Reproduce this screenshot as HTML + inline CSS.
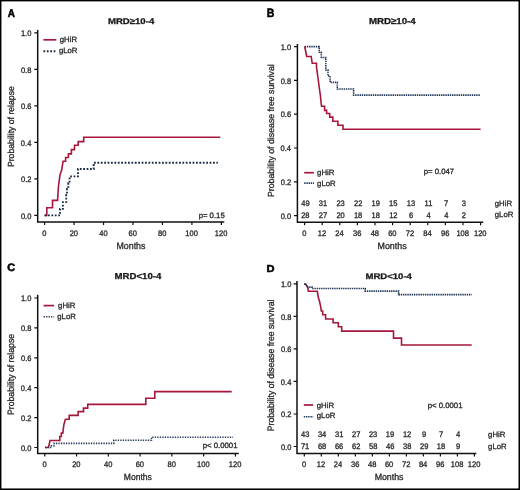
<!DOCTYPE html>
<html><head><meta charset="utf-8"><title>Figure</title>
<style>html,body{margin:0;padding:0;background:#fff;width:520px;height:490px;overflow:hidden}svg{display:block;will-change:transform}text{font-family:"Liberation Sans",sans-serif;text-rendering:geometricPrecision;stroke:#2a2a2a;stroke-width:0.3px}</style>
</head><body>
<svg width="520" height="490" viewBox="0 0 520 490">
<rect x="0" y="0" width="520" height="490" fill="#fff"/>
<path d="M37.7,30 V222.1 H224.3" fill="none" stroke="#111" stroke-width="1.5"/>
<text x="20.95" y="218.55" font-size="8" textLength="10.45" lengthAdjust="spacingAndGlyphs" fill="#1a1a1a">0.0</text>
<text x="21.02" y="182.05" font-size="8" textLength="10.45" lengthAdjust="spacingAndGlyphs" fill="#1a1a1a">0.2</text>
<text x="20.87" y="145.55" font-size="8" textLength="10.45" lengthAdjust="spacingAndGlyphs" fill="#1a1a1a">0.4</text>
<text x="20.99" y="109.05" font-size="8" textLength="10.45" lengthAdjust="spacingAndGlyphs" fill="#1a1a1a">0.6</text>
<text x="20.95" y="72.55" font-size="8" textLength="10.45" lengthAdjust="spacingAndGlyphs" fill="#1a1a1a">0.8</text>
<text x="20.95" y="36.05" font-size="8" textLength="10.45" lengthAdjust="spacingAndGlyphs" fill="#1a1a1a">1.0</text>
<path d="M34.3,215.35 H37.7 M34.3,178.85 H37.7 M34.3,142.35 H37.7 M34.3,105.85 H37.7 M34.3,69.35 H37.7 M34.3,32.85 H37.7" stroke="#111" stroke-width="1.2"/>
<text x="42.31" y="236.1" font-size="8" textLength="4.18" lengthAdjust="spacingAndGlyphs" fill="#1a1a1a">0</text>
<text x="69.66" y="236.1" font-size="8" textLength="8.36" lengthAdjust="spacingAndGlyphs" fill="#1a1a1a">20</text>
<text x="99.22" y="236.1" font-size="8" textLength="8.36" lengthAdjust="spacingAndGlyphs" fill="#1a1a1a">40</text>
<text x="128.59" y="236.1" font-size="8" textLength="8.36" lengthAdjust="spacingAndGlyphs" fill="#1a1a1a">60</text>
<text x="158.07" y="236.1" font-size="8" textLength="8.36" lengthAdjust="spacingAndGlyphs" fill="#1a1a1a">80</text>
<text x="185.34" y="236.1" font-size="8" textLength="12.55" lengthAdjust="spacingAndGlyphs" fill="#1a1a1a">100</text>
<text x="214.81" y="236.1" font-size="8" textLength="12.55" lengthAdjust="spacingAndGlyphs" fill="#1a1a1a">120</text>
<path d="M44.6,222.1 V225.1 M74.07,222.1 V225.1 M103.53,222.1 V225.1 M133,222.1 V225.1 M162.47,222.1 V225.1 M191.93,222.1 V225.1 M221.4,222.1 V225.1" stroke="#111" stroke-width="1.2"/>
<text x="107.93" y="23.65" font-size="8.29" textLength="46.3" lengthAdjust="spacingAndGlyphs" font-weight="bold" fill="#111">MRD&#8805;10-4</text>
<text x="7.75" y="16.55" font-size="11.16" textLength="7.17" lengthAdjust="spacingAndGlyphs" font-weight="bold" fill="#000" style="stroke:#000;stroke-width:0.55px">A</text>
<text x="-0.69" y="0" font-size="8.83" textLength="80.87" lengthAdjust="spacingAndGlyphs" fill="#1a1a1a" transform="translate(14.45,166.35) rotate(-90)">Probability of relapse</text>
<text x="116.54" y="249.25" font-size="9.52" textLength="28.91" lengthAdjust="spacingAndGlyphs" fill="#1a1a1a">Months</text>
<path d="M43.4,39.8 H56.3" stroke="#a5173b" stroke-width="1.7"/>
<path d="M43.4,51.3 H56.3" stroke="#1d2f45" stroke-width="1.9" stroke-dasharray="1.8 1.6"/>
<text x="59.79" y="42.2" font-size="7.75" textLength="17.23" lengthAdjust="spacingAndGlyphs" fill="#1a1a1a">gHiR</text>
<text x="58.89" y="52.8" font-size="7.75" textLength="18.53" lengthAdjust="spacingAndGlyphs" fill="#1a1a1a">gLoR</text>
<text x="198.63" y="217.6" font-size="7.75" textLength="26.07" lengthAdjust="spacingAndGlyphs" fill="#1a1a1a">p= 0.15</text>
<path d="M44.6,215.4 H46.8 V207.8 H52.5 V200.4 H57.6 L58.4,187 L60,174.6 L61.7,170 L63.1,161.2 H65.6 V157.5 H68.4 V153.9 H71.4 V149.6 H74.5 V145.3 H78.2 V141.6 H83.7 V137.3 H220.3" fill="none" stroke="#a5173b" stroke-width="1.6" stroke-linejoin="miter"/>
<path d="M44.6,215.4 H60 V208.9 H62.9 V202.1 H66.2 V195 H67 V189 H68.3 V183 H69.6 V176.4 H78 V169 H93.7 V162.8 H217.8" fill="none" stroke="#1d2f45" stroke-width="1.9" stroke-dasharray="1.8 1.6"/>
<path d="M297.4,44 V222.3 H483.2" fill="none" stroke="#111" stroke-width="1.5"/>
<text x="280.65" y="218.8" font-size="8" textLength="10.45" lengthAdjust="spacingAndGlyphs" fill="#1a1a1a">0.0</text>
<text x="280.72" y="185" font-size="8" textLength="10.45" lengthAdjust="spacingAndGlyphs" fill="#1a1a1a">0.2</text>
<text x="280.57" y="151.2" font-size="8" textLength="10.45" lengthAdjust="spacingAndGlyphs" fill="#1a1a1a">0.4</text>
<text x="280.69" y="117.4" font-size="8" textLength="10.45" lengthAdjust="spacingAndGlyphs" fill="#1a1a1a">0.6</text>
<text x="280.65" y="83.6" font-size="8" textLength="10.45" lengthAdjust="spacingAndGlyphs" fill="#1a1a1a">0.8</text>
<text x="280.65" y="49.8" font-size="8" textLength="10.45" lengthAdjust="spacingAndGlyphs" fill="#1a1a1a">1.0</text>
<path d="M294,215.6 H297.4 M294,181.8 H297.4 M294,148 H297.4 M294,114.2 H297.4 M294,80.4 H297.4 M294,46.6 H297.4" stroke="#111" stroke-width="1.2"/>
<text x="302.31" y="236" font-size="8" textLength="4.18" lengthAdjust="spacingAndGlyphs" fill="#1a1a1a">0</text>
<text x="317.73" y="236" font-size="8" textLength="8.36" lengthAdjust="spacingAndGlyphs" fill="#1a1a1a">12</text>
<text x="335.35" y="236" font-size="8" textLength="8.36" lengthAdjust="spacingAndGlyphs" fill="#1a1a1a">24</text>
<text x="353.05" y="236" font-size="8" textLength="8.36" lengthAdjust="spacingAndGlyphs" fill="#1a1a1a">36</text>
<text x="370.68" y="236" font-size="8" textLength="8.36" lengthAdjust="spacingAndGlyphs" fill="#1a1a1a">48</text>
<text x="388.19" y="236" font-size="8" textLength="8.36" lengthAdjust="spacingAndGlyphs" fill="#1a1a1a">60</text>
<text x="405.83" y="236" font-size="8" textLength="8.36" lengthAdjust="spacingAndGlyphs" fill="#1a1a1a">72</text>
<text x="423.37" y="236" font-size="8" textLength="8.36" lengthAdjust="spacingAndGlyphs" fill="#1a1a1a">84</text>
<text x="441.03" y="236" font-size="8" textLength="8.36" lengthAdjust="spacingAndGlyphs" fill="#1a1a1a">96</text>
<text x="456.41" y="236" font-size="8" textLength="12.55" lengthAdjust="spacingAndGlyphs" fill="#1a1a1a">108</text>
<text x="474.01" y="236" font-size="8" textLength="12.55" lengthAdjust="spacingAndGlyphs" fill="#1a1a1a">120</text>
<path d="M304.6,222.3 V225.3 M322.2,222.3 V225.3 M339.8,222.3 V225.3 M357.4,222.3 V225.3 M375,222.3 V225.3 M392.6,222.3 V225.3 M410.2,222.3 V225.3 M427.8,222.3 V225.3 M445.4,222.3 V225.3 M463,222.3 V225.3 M480.6,222.3 V225.3" stroke="#111" stroke-width="1.2"/>
<text x="368.92" y="23.85" font-size="8.57" textLength="46.81" lengthAdjust="spacingAndGlyphs" font-weight="bold" fill="#111">MRD&#8805;10-4</text>
<text x="266.67" y="16.95" font-size="12.17" textLength="7.58" lengthAdjust="spacingAndGlyphs" font-weight="bold" fill="#000" style="stroke:#000;stroke-width:0.55px">B</text>
<text x="-0.7" y="0" font-size="8.83" textLength="132.81" lengthAdjust="spacingAndGlyphs" fill="#1a1a1a" transform="translate(274.05,196.35) rotate(-90)">Probability of disease free survival</text>
<text x="377.54" y="249.05" font-size="9.24" textLength="29.12" lengthAdjust="spacingAndGlyphs" fill="#1a1a1a">Months</text>
<path d="M304.2,172.7 H313.9" stroke="#a5173b" stroke-width="1.7"/>
<path d="M304.2,183.1 H313.9" stroke="#213657" stroke-width="1.6" stroke-dasharray="1.4 0.8"/>
<text x="317.09" y="174.5" font-size="7.75" textLength="17.23" lengthAdjust="spacingAndGlyphs" fill="#1a1a1a">gHiR</text>
<text x="317.09" y="185.5" font-size="7.75" textLength="18.53" lengthAdjust="spacingAndGlyphs" fill="#1a1a1a">gLoR</text>
<text x="423.7" y="174.45" font-size="7.75" textLength="30.38" lengthAdjust="spacingAndGlyphs" fill="#1a1a1a">p= 0.047</text>
<path d="M304.7,46.5 L306.7,56.5 H311.2 L312.2,63.3 H316.5 V67 L318,78 L319.3,88 L320.2,94 L321.5,106.3 H324.6 V110.4 H326.6 V113.5 H329.7 V117.1 H332.8 V121.2 H337.9 V125.3 H343 V129.2 H480.6" fill="none" stroke="#a5173b" stroke-width="1.6" stroke-linejoin="miter"/>
<path d="M304.7,46.6 H319.2 V52.2 H321.3 V57.5 H325.8 V70 H328 V76 H330.1 V82.4 H337.3 V89 H353.6 V95.1 H480.6" fill="none" stroke="#213657" stroke-width="1.6" stroke-dasharray="1.4 0.8"/>
<text x="301.3" y="205.8" font-size="8" textLength="8.36" lengthAdjust="spacingAndGlyphs" fill="#1a1a1a">49</text>
<text x="318.86" y="205.8" font-size="8" textLength="8.36" lengthAdjust="spacingAndGlyphs" fill="#1a1a1a">31</text>
<text x="336.41" y="205.8" font-size="8" textLength="8.36" lengthAdjust="spacingAndGlyphs" fill="#1a1a1a">23</text>
<text x="354.03" y="205.8" font-size="8" textLength="8.36" lengthAdjust="spacingAndGlyphs" fill="#1a1a1a">22</text>
<text x="371.51" y="205.8" font-size="8" textLength="8.36" lengthAdjust="spacingAndGlyphs" fill="#1a1a1a">19</text>
<text x="389.09" y="205.8" font-size="8" textLength="8.36" lengthAdjust="spacingAndGlyphs" fill="#1a1a1a">15</text>
<text x="406.71" y="205.8" font-size="8" textLength="8.36" lengthAdjust="spacingAndGlyphs" fill="#1a1a1a">13</text>
<text x="424.61" y="205.8" font-size="8" textLength="7.81" lengthAdjust="spacingAndGlyphs" fill="#1a1a1a">11</text>
<text x="444.11" y="205.8" font-size="8" textLength="4.18" lengthAdjust="spacingAndGlyphs" fill="#1a1a1a">7</text>
<text x="461.73" y="205.8" font-size="8" textLength="4.18" lengthAdjust="spacingAndGlyphs" fill="#1a1a1a">3</text>
<text x="301.19" y="217.9" font-size="8" textLength="8.36" lengthAdjust="spacingAndGlyphs" fill="#1a1a1a">28</text>
<text x="318.83" y="217.9" font-size="8" textLength="8.36" lengthAdjust="spacingAndGlyphs" fill="#1a1a1a">27</text>
<text x="336.39" y="217.9" font-size="8" textLength="8.36" lengthAdjust="spacingAndGlyphs" fill="#1a1a1a">20</text>
<text x="353.89" y="217.9" font-size="8" textLength="8.36" lengthAdjust="spacingAndGlyphs" fill="#1a1a1a">18</text>
<text x="371.49" y="217.9" font-size="8" textLength="8.36" lengthAdjust="spacingAndGlyphs" fill="#1a1a1a">18</text>
<text x="389.13" y="217.9" font-size="8" textLength="8.36" lengthAdjust="spacingAndGlyphs" fill="#1a1a1a">12</text>
<text x="408.89" y="217.9" font-size="8" textLength="4.18" lengthAdjust="spacingAndGlyphs" fill="#1a1a1a">6</text>
<text x="426.53" y="217.9" font-size="8" textLength="4.18" lengthAdjust="spacingAndGlyphs" fill="#1a1a1a">4</text>
<text x="444.13" y="217.9" font-size="8" textLength="4.18" lengthAdjust="spacingAndGlyphs" fill="#1a1a1a">4</text>
<text x="461.71" y="217.9" font-size="8" textLength="4.18" lengthAdjust="spacingAndGlyphs" fill="#1a1a1a">2</text>
<text x="494.79" y="205.55" font-size="7.75" textLength="17.23" lengthAdjust="spacingAndGlyphs" fill="#1a1a1a">gHiR</text>
<text x="494.79" y="217.25" font-size="7.75" textLength="18.53" lengthAdjust="spacingAndGlyphs" fill="#1a1a1a">gLoR</text>
<path d="M37.7,294.8 V453.6 H238.7" fill="none" stroke="#111" stroke-width="1.5"/>
<text x="20.95" y="450.7" font-size="8" textLength="10.45" lengthAdjust="spacingAndGlyphs" fill="#1a1a1a">0.0</text>
<text x="21.02" y="420.8" font-size="8" textLength="10.45" lengthAdjust="spacingAndGlyphs" fill="#1a1a1a">0.2</text>
<text x="20.87" y="390.9" font-size="8" textLength="10.45" lengthAdjust="spacingAndGlyphs" fill="#1a1a1a">0.4</text>
<text x="20.99" y="361" font-size="8" textLength="10.45" lengthAdjust="spacingAndGlyphs" fill="#1a1a1a">0.6</text>
<text x="20.95" y="331.1" font-size="8" textLength="10.45" lengthAdjust="spacingAndGlyphs" fill="#1a1a1a">0.8</text>
<text x="20.95" y="301.2" font-size="8" textLength="10.45" lengthAdjust="spacingAndGlyphs" fill="#1a1a1a">1.0</text>
<path d="M34.3,447.5 H37.7 M34.3,417.6 H37.7 M34.3,387.7 H37.7 M34.3,357.8 H37.7 M34.3,327.9 H37.7 M34.3,298 H37.7" stroke="#111" stroke-width="1.2"/>
<text x="42.51" y="467.3" font-size="8" textLength="4.18" lengthAdjust="spacingAndGlyphs" fill="#1a1a1a">0</text>
<text x="72.16" y="467.3" font-size="8" textLength="8.36" lengthAdjust="spacingAndGlyphs" fill="#1a1a1a">20</text>
<text x="104.02" y="467.3" font-size="8" textLength="8.36" lengthAdjust="spacingAndGlyphs" fill="#1a1a1a">40</text>
<text x="135.69" y="467.3" font-size="8" textLength="8.36" lengthAdjust="spacingAndGlyphs" fill="#1a1a1a">60</text>
<text x="167.47" y="467.3" font-size="8" textLength="8.36" lengthAdjust="spacingAndGlyphs" fill="#1a1a1a">80</text>
<text x="197.04" y="467.3" font-size="8" textLength="12.55" lengthAdjust="spacingAndGlyphs" fill="#1a1a1a">100</text>
<text x="228.81" y="467.3" font-size="8" textLength="12.55" lengthAdjust="spacingAndGlyphs" fill="#1a1a1a">120</text>
<path d="M44.8,453.6 V456.6 M76.57,453.6 V456.6 M108.33,453.6 V456.6 M140.1,453.6 V456.6 M171.87,453.6 V456.6 M203.63,453.6 V456.6 M235.4,453.6 V456.6" stroke="#111" stroke-width="1.2"/>
<text x="114.52" y="278.75" font-size="8.57" textLength="46.8" lengthAdjust="spacingAndGlyphs" font-weight="bold" fill="#111">MRD&lt;10-4</text>
<text x="7.32" y="271.35" font-size="10.71" textLength="7.83" lengthAdjust="spacingAndGlyphs" font-weight="bold" fill="#000" style="stroke:#000;stroke-width:0.55px">C</text>
<text x="-0.7" y="0" font-size="9.24" textLength="81.17" lengthAdjust="spacingAndGlyphs" fill="#1a1a1a" transform="translate(14.35,414.35) rotate(-90)">Probability of relapse</text>
<text x="123.87" y="480.25" font-size="9.24" textLength="27.98" lengthAdjust="spacingAndGlyphs" fill="#1a1a1a">Months</text>
<path d="M43.6,305.6 H54.1" stroke="#a5173b" stroke-width="1.7"/>
<path d="M43.6,316.7 H54.1" stroke="#213657" stroke-width="1.6" stroke-dasharray="1.3 1.2"/>
<text x="58.09" y="307.5" font-size="7.75" textLength="17.23" lengthAdjust="spacingAndGlyphs" fill="#1a1a1a">gHiR</text>
<text x="57.29" y="318.5" font-size="7.75" textLength="18.53" lengthAdjust="spacingAndGlyphs" fill="#1a1a1a">gLoR</text>
<text x="202.81" y="447.75" font-size="7.75" textLength="34.69" lengthAdjust="spacingAndGlyphs" fill="#1a1a1a">p&lt; 0.0001</text>
<path d="M45,447.5 H48.5 L50,440.5 H59.8 V436.5 H61.3 V433.1 H62.8 L63.8,425 L65.4,419.2 H69.2 V415.4 H78.1 V411.6 H83.5 V408.1 H87.7 V404.4 H145.8 V398.2 H154.8 V391.6 H231.7" fill="none" stroke="#a5173b" stroke-width="1.6" stroke-linejoin="miter"/>
<path d="M45,447.5 H51.5 V445.8 H54.2 V443.4 H113.8 V440.3 H151.5 V437.3 H232.9" fill="none" stroke="#213657" stroke-width="1.6" stroke-dasharray="1.3 1.2"/>
<path d="M297,281 V453.6 H476.3" fill="none" stroke="#111" stroke-width="1.5"/>
<text x="280.95" y="449.7" font-size="8" textLength="10.45" lengthAdjust="spacingAndGlyphs" fill="#1a1a1a">0.0</text>
<text x="281.02" y="417.18" font-size="8" textLength="10.45" lengthAdjust="spacingAndGlyphs" fill="#1a1a1a">0.2</text>
<text x="280.87" y="384.66" font-size="8" textLength="10.45" lengthAdjust="spacingAndGlyphs" fill="#1a1a1a">0.4</text>
<text x="280.99" y="352.14" font-size="8" textLength="10.45" lengthAdjust="spacingAndGlyphs" fill="#1a1a1a">0.6</text>
<text x="280.95" y="319.62" font-size="8" textLength="10.45" lengthAdjust="spacingAndGlyphs" fill="#1a1a1a">0.8</text>
<text x="280.95" y="287.1" font-size="8" textLength="10.45" lengthAdjust="spacingAndGlyphs" fill="#1a1a1a">1.0</text>
<path d="M293.6,446.5 H297 M293.6,413.98 H297 M293.6,381.46 H297 M293.6,348.94 H297 M293.6,316.42 H297 M293.6,283.9 H297" stroke="#111" stroke-width="1.2"/>
<text x="302.01" y="467.2" font-size="8" textLength="4.18" lengthAdjust="spacingAndGlyphs" fill="#1a1a1a">0</text>
<text x="316.84" y="467.2" font-size="8" textLength="8.36" lengthAdjust="spacingAndGlyphs" fill="#1a1a1a">12</text>
<text x="333.87" y="467.2" font-size="8" textLength="8.36" lengthAdjust="spacingAndGlyphs" fill="#1a1a1a">24</text>
<text x="350.98" y="467.2" font-size="8" textLength="8.36" lengthAdjust="spacingAndGlyphs" fill="#1a1a1a">36</text>
<text x="368.02" y="467.2" font-size="8" textLength="8.36" lengthAdjust="spacingAndGlyphs" fill="#1a1a1a">48</text>
<text x="384.94" y="467.2" font-size="8" textLength="8.36" lengthAdjust="spacingAndGlyphs" fill="#1a1a1a">60</text>
<text x="401.99" y="467.2" font-size="8" textLength="8.36" lengthAdjust="spacingAndGlyphs" fill="#1a1a1a">72</text>
<text x="418.94" y="467.2" font-size="8" textLength="8.36" lengthAdjust="spacingAndGlyphs" fill="#1a1a1a">84</text>
<text x="436.01" y="467.2" font-size="8" textLength="8.36" lengthAdjust="spacingAndGlyphs" fill="#1a1a1a">96</text>
<text x="450.8" y="467.2" font-size="8" textLength="12.55" lengthAdjust="spacingAndGlyphs" fill="#1a1a1a">108</text>
<text x="467.81" y="467.2" font-size="8" textLength="12.55" lengthAdjust="spacingAndGlyphs" fill="#1a1a1a">120</text>
<path d="M304.3,453.6 V456.6 M321.31,453.6 V456.6 M338.32,453.6 V456.6 M355.33,453.6 V456.6 M372.34,453.6 V456.6 M389.35,453.6 V456.6 M406.36,453.6 V456.6 M423.37,453.6 V456.6 M440.38,453.6 V456.6 M457.39,453.6 V456.6 M474.4,453.6 V456.6" stroke="#111" stroke-width="1.2"/>
<text x="365.43" y="278.65" font-size="8.14" textLength="46.5" lengthAdjust="spacingAndGlyphs" font-weight="bold" fill="#111">MRD&lt;10-4</text>
<text x="266.43" y="271.75" font-size="10.14" textLength="7.99" lengthAdjust="spacingAndGlyphs" font-weight="bold" fill="#000" style="stroke:#000;stroke-width:0.55px">D</text>
<text x="-0.69" y="0" font-size="9.38" textLength="131.7" lengthAdjust="spacingAndGlyphs" fill="#1a1a1a" transform="translate(274.35,430.55) rotate(-90)">Probability of disease free survival</text>
<text x="374.64" y="480.25" font-size="9.24" textLength="28.91" lengthAdjust="spacingAndGlyphs" fill="#1a1a1a">Months</text>
<path d="M303.8,405 H313.2" stroke="#a5173b" stroke-width="1.7"/>
<path d="M303.8,416.8 H313.2" stroke="#213657" stroke-width="1.6" stroke-dasharray="1.4 0.8"/>
<text x="316.79" y="407.5" font-size="7.75" textLength="17.23" lengthAdjust="spacingAndGlyphs" fill="#1a1a1a">gHiR</text>
<text x="316.79" y="418.4" font-size="7.75" textLength="18.53" lengthAdjust="spacingAndGlyphs" fill="#1a1a1a">gLoR</text>
<text x="427.8" y="407.95" font-size="7.75" textLength="34.69" lengthAdjust="spacingAndGlyphs" fill="#1a1a1a">p&lt; 0.0001</text>
<path d="M304.3,284.1 H305.6 L307.8,287.6 L308.4,291.3 H317.3 L318.3,297.2 L319.7,302 L320.7,306.8 L321.3,311 H322.7 V314.8 H325.6 V319 H333.1 V322.8 H338.3 V326.8 H341.7 V331.1 H393.5 V338.1 H401.5 V345 H471.7" fill="none" stroke="#a5173b" stroke-width="1.6" stroke-linejoin="miter"/>
<path d="M304.3,284.1 H305.8 L307.7,287.1 H312 V288.5 H365.2 V291.1 H398.6 V294.6 H471.7" fill="none" stroke="#213657" stroke-width="1.6" stroke-dasharray="1.4 0.8"/>
<text x="301" y="437" font-size="8" textLength="8.36" lengthAdjust="spacingAndGlyphs" fill="#1a1a1a">43</text>
<text x="317.9" y="437" font-size="8" textLength="8.36" lengthAdjust="spacingAndGlyphs" fill="#1a1a1a">34</text>
<text x="334.98" y="437" font-size="8" textLength="8.36" lengthAdjust="spacingAndGlyphs" fill="#1a1a1a">31</text>
<text x="351.96" y="437" font-size="8" textLength="8.36" lengthAdjust="spacingAndGlyphs" fill="#1a1a1a">27</text>
<text x="368.95" y="437" font-size="8" textLength="8.36" lengthAdjust="spacingAndGlyphs" fill="#1a1a1a">23</text>
<text x="385.86" y="437" font-size="8" textLength="8.36" lengthAdjust="spacingAndGlyphs" fill="#1a1a1a">19</text>
<text x="402.89" y="437" font-size="8" textLength="8.36" lengthAdjust="spacingAndGlyphs" fill="#1a1a1a">12</text>
<text x="422.08" y="437" font-size="8" textLength="4.18" lengthAdjust="spacingAndGlyphs" fill="#1a1a1a">9</text>
<text x="439.09" y="437" font-size="8" textLength="4.18" lengthAdjust="spacingAndGlyphs" fill="#1a1a1a">7</text>
<text x="456.12" y="437" font-size="8" textLength="4.18" lengthAdjust="spacingAndGlyphs" fill="#1a1a1a">4</text>
<text x="300.93" y="448.9" font-size="8" textLength="8.36" lengthAdjust="spacingAndGlyphs" fill="#1a1a1a">71</text>
<text x="317.9" y="448.9" font-size="8" textLength="8.36" lengthAdjust="spacingAndGlyphs" fill="#1a1a1a">68</text>
<text x="334.93" y="448.9" font-size="8" textLength="8.36" lengthAdjust="spacingAndGlyphs" fill="#1a1a1a">66</text>
<text x="351.96" y="448.9" font-size="8" textLength="8.36" lengthAdjust="spacingAndGlyphs" fill="#1a1a1a">62</text>
<text x="368.97" y="448.9" font-size="8" textLength="8.36" lengthAdjust="spacingAndGlyphs" fill="#1a1a1a">58</text>
<text x="386.05" y="448.9" font-size="8" textLength="8.36" lengthAdjust="spacingAndGlyphs" fill="#1a1a1a">46</text>
<text x="402.99" y="448.9" font-size="8" textLength="8.36" lengthAdjust="spacingAndGlyphs" fill="#1a1a1a">38</text>
<text x="419.98" y="448.9" font-size="8" textLength="8.36" lengthAdjust="spacingAndGlyphs" fill="#1a1a1a">29</text>
<text x="436.87" y="448.9" font-size="8" textLength="8.36" lengthAdjust="spacingAndGlyphs" fill="#1a1a1a">18</text>
<text x="456.1" y="448.9" font-size="8" textLength="4.18" lengthAdjust="spacingAndGlyphs" fill="#1a1a1a">9</text>
<text x="488.09" y="436.85" font-size="7.75" textLength="17.23" lengthAdjust="spacingAndGlyphs" fill="#1a1a1a">gHiR</text>
<text x="488.09" y="448.75" font-size="7.75" textLength="18.53" lengthAdjust="spacingAndGlyphs" fill="#1a1a1a">gLoR</text>
<rect x="0" y="0" width="520" height="1.4" fill="#000"/>
<rect x="0" y="0" width="1.45" height="490" fill="#000"/>
<rect x="518.5" y="0" width="1.5" height="490" fill="#000"/>
<rect x="0" y="488.45" width="520" height="1.55" fill="#000"/>
</svg>
</body></html>
